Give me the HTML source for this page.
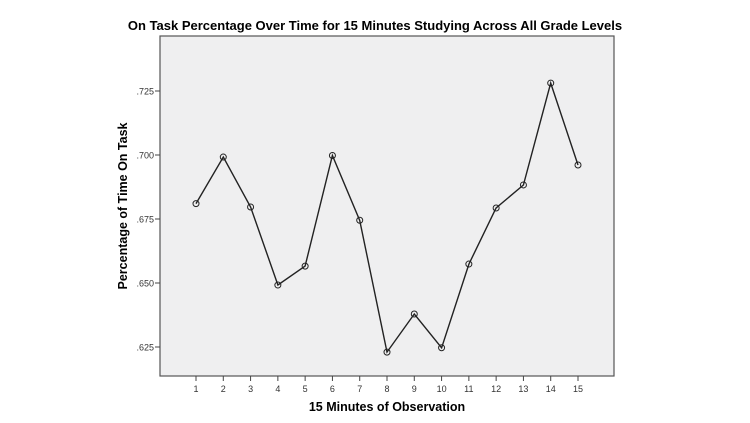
<!DOCTYPE html>
<html><head><meta charset="utf-8"><style>
html,body{margin:0;padding:0;background:#fff;}
svg{display:block;font-family:"Liberation Sans",Arial,sans-serif;}
</style></head><body>
<svg id="chart" width="750" height="423" viewBox="0 0 750 423">
<text x="375" y="30" text-anchor="middle" font-size="13" font-weight="bold">On Task Percentage Over Time for 15 Minutes Studying Across All Grade Levels</text>
<rect x="160" y="36" width="454" height="340" fill="#efeff0" stroke="#555" stroke-width="1.2"/>
<g id="yaxis"></g>
<g id="xaxis"></g>
<g id="series"></g>
<text x="387" y="411" text-anchor="middle" font-size="12.5" font-weight="bold">15 Minutes of Observation</text>
<text transform="translate(127,206) rotate(-90)" text-anchor="middle" font-size="12.5" font-weight="bold">Percentage of Time On Task</text>
</svg>
<script>
const categories = [1,2,3,4,5,6,7,8,9,10,11,12,13,14,15];
const values = [0.681,0.6992,0.6797,0.6492,0.6566,0.6998,0.6745,0.623,0.6379,0.6247,0.6574,0.6793,0.6883,0.7281,0.6961];
const yTicks = [0.625,0.650,0.675,0.700,0.725];
const yTickLabels = [".625",".650",".675",".700",".725"];
const NS="http://www.w3.org/2000/svg";
function xs(i){return 196+(i-1)*(578-196)/14;}
function ys(v){return 155-(v-0.700)/0.025*64;}
function mk(t,a,p){const e=document.createElementNS(NS,t);for(const k in a)e.setAttribute(k,a[k]);p.appendChild(e);return e;}
const ya=document.getElementById('yaxis'),xa=document.getElementById('xaxis'),sg=document.getElementById('series');
yTicks.forEach((v,i)=>{
  const l=mk('line',{x1:155,x2:160,y1:ys(v),y2:ys(v),stroke:'#444','stroke-width':1},ya);
  
  
  const t=mk('text',{x:154,y:ys(v)+3.5,'text-anchor':'end','font-size':9,fill:'#333'},ya);
  t.textContent=yTickLabels[i];
  
  
});
categories.forEach(c=>{
  const l=mk('line',{x1:xs(c),x2:xs(c),y1:376,y2:381,stroke:'#444','stroke-width':1},xa);
  
  
  const t=mk('text',{x:xs(c),y:392,'text-anchor':'middle','font-size':9,fill:'#333'},xa);
  t.textContent=String(c);
  
  
});
const pts=categories.map((c,i)=>xs(c).toFixed(1)+','+ys(values[i]).toFixed(1)).join(' ');
const pl=mk('polyline',{points:pts,fill:'none',stroke:'#222','stroke-width':1.4},sg);


categories.forEach((c,i)=>{
  const m=mk('circle',{cx:xs(c),cy:ys(values[i]),r:3,fill:'none',stroke:'#222','stroke-width':1},sg);
  
  
});
</script>
</body></html>
